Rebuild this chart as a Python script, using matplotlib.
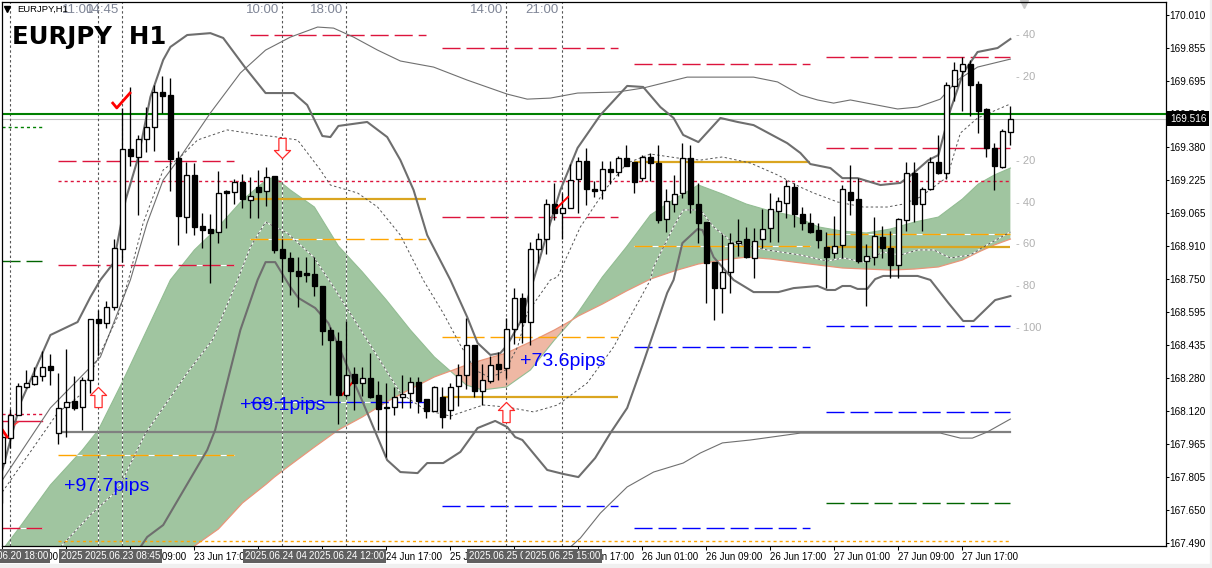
import matplotlib
matplotlib.use("Agg")
import matplotlib.pyplot as plt
from matplotlib.path import Path
from matplotlib.patches import Rectangle
from matplotlib.transforms import blended_transform_factory
import numpy as np

plt.rcParams['font.family'] = ['Liberation Sans', 'DejaVu Sans']

# ---- candles, EURJPY H1, one value per bar ----
opens = [167.873,167.992,168.102,168.236,168.250,168.288,168.336,168.016,168.140,168.169,
         168.140,168.269,168.560,168.541,168.618,168.895,169.372,169.334,169.420,169.477,
         169.644,169.630,169.329,169.047,169.248,169.004,168.990,168.976,169.171,169.167,
         169.214,169.128,169.190,169.171,169.243,168.895,168.852,168.790,168.780,168.775,
         168.718,168.508,168.455,168.198,168.298,168.255,168.279,168.198,168.140,168.140,
         168.188,168.207,168.260,168.179,168.121,168.188,168.126,168.241,168.293,168.436,
         168.217,168.264,168.346,168.327,168.513,168.661,168.546,168.895,168.942,169.109,
         169.066,169.090,169.229,169.315,169.181,169.176,169.276,169.262,169.329,169.310,
         169.233,169.334,169.305,169.038,169.109,169.162,169.329,169.109,169.023,168.832,
         168.708,168.785,168.923,168.942,168.852,168.942,168.995,169.076,169.114,169.190,
         169.062,169.019,168.985,168.904,168.875,168.914,169.167,169.133,168.837,168.856,
         168.952,168.899,168.818,169.033,169.257,169.109,169.181,169.310,169.257,169.673,
         169.744,169.778,169.682,169.563,169.377,169.286,169.453]
highs = [168.078,168.131,168.255,168.317,168.331,168.408,168.393,168.303,168.417,168.288,
         168.284,168.560,168.603,168.646,168.942,169.568,169.668,169.439,169.572,169.677,
         169.720,169.711,169.362,169.310,169.305,169.066,169.062,169.267,169.176,169.229,
         169.253,169.238,169.272,169.286,169.243,168.942,168.880,168.856,168.856,168.856,
         168.718,168.522,168.498,168.551,168.331,168.331,168.398,168.264,168.255,168.236,
         168.293,168.284,168.284,168.179,168.241,168.236,168.255,168.346,168.565,168.436,
         168.346,168.384,168.403,168.565,168.708,168.685,168.928,168.971,169.133,169.210,
         169.162,169.300,169.334,169.377,169.219,169.315,169.315,169.338,169.391,169.310,
         169.343,169.353,169.391,169.181,169.248,169.400,169.391,169.210,169.023,168.832,
         168.966,168.971,169.038,169.000,168.995,169.085,169.162,169.143,169.224,169.210,
         169.095,169.066,169.019,168.976,169.052,169.200,169.295,169.233,168.918,169.047,
         169.004,168.980,169.042,169.310,169.310,169.190,169.334,169.439,169.692,169.787,
         169.811,169.797,169.696,169.568,169.400,169.467,169.577]
lows = [167.682,167.945,168.102,168.231,168.245,168.264,168.245,167.964,167.997,168.126,
        168.031,168.207,168.389,168.517,168.603,168.832,169.291,169.057,169.358,169.362,
        169.544,169.171,168.914,168.971,168.961,168.899,168.732,168.923,168.995,169.109,
        169.090,169.042,169.042,169.100,168.875,168.737,168.675,168.618,168.737,168.670,
        168.436,168.198,168.059,168.188,168.126,168.193,168.183,168.031,167.902,168.102,
        168.136,168.136,168.112,168.088,168.121,168.040,168.083,168.145,168.226,168.188,
        168.150,168.255,168.269,168.279,168.441,168.446,168.436,168.828,168.871,169.033,
        168.942,169.090,169.066,169.105,169.143,169.133,169.205,169.243,169.291,169.162,
        169.219,169.219,169.019,168.976,169.071,169.138,169.066,168.923,168.637,168.556,
        168.589,168.685,168.861,168.852,168.756,168.899,168.928,168.928,169.042,169.000,
        168.985,168.971,168.899,168.708,168.852,168.852,169.057,168.828,168.622,168.818,
        168.852,168.756,168.756,168.980,169.023,168.980,169.176,169.253,169.229,169.601,
        169.553,169.529,169.448,169.334,169.176,169.281,169.391]
closes = [167.997,168.102,168.241,168.255,168.288,168.331,168.317,168.136,168.164,168.136,
          168.269,168.560,168.541,168.618,168.899,169.372,169.338,169.420,169.477,169.644,
          169.625,169.324,169.052,169.248,169.000,168.985,168.971,169.162,169.162,169.214,
          169.133,169.148,169.167,169.238,168.890,168.852,168.790,168.766,168.770,168.718,
          168.503,168.460,168.198,168.293,168.255,168.279,168.188,168.131,168.136,168.188,
          168.202,168.260,168.169,168.121,168.236,168.093,168.236,168.293,168.436,168.217,
          168.269,168.341,168.322,168.513,168.661,168.546,168.895,168.942,169.109,169.066,
          169.090,169.224,169.315,169.181,169.171,169.276,169.262,169.329,169.291,169.214,
          169.334,169.305,169.033,169.124,169.157,169.329,169.109,169.019,168.828,168.708,
          168.785,168.923,168.933,168.856,168.933,168.990,169.085,169.124,169.195,169.062,
          169.019,168.976,168.938,168.856,168.909,169.181,169.128,168.837,168.861,168.957,
          168.899,168.818,169.038,169.257,169.109,169.181,169.310,169.257,169.677,169.749,
          169.778,169.677,169.553,169.377,169.291,169.458,169.515]

# ---- inner bands (thick) ----
upper_bars = [0,2.25,6,9.4,11,12.25,13.9,15.4,17,18.5,20.1,21,23.1,26,27.6,30.4,32.9,36.4,38.1,40,41,42,
              45.6,48.1,49.75,51.4,53.1,56,58.1,59.4,61,62.25,63.1,64.75,66.4,68.1,69.75,71.9,74.75,78.1,
              80.1,82.25,83.9,85.1,87,89.75,91.9,93.9,98.1,99.75,101,103.5,105,106.9,109.75,112.25,113.9,
              115.75,117,118.5,120.1,121.9,124.4,126]
upper_vals = [167.840,168.159,168.484,168.546,168.665,168.747,168.828,169.128,169.334,169.620,169.797,
              169.859,169.916,169.925,169.902,169.758,169.639,169.639,169.582,169.434,169.429,169.482,
              169.501,169.429,169.319,169.176,168.961,168.747,168.570,168.446,168.389,168.398,168.436,
              168.546,168.747,168.971,169.176,169.377,169.534,169.673,169.668,169.572,169.520,169.439,
              169.405,169.520,169.501,169.486,169.400,169.353,169.300,169.281,169.233,169.233,169.200,
              169.210,169.257,169.319,169.343,169.558,169.735,169.835,169.854,169.897]
lower_bars = [17.25,18.1,20.1,25.6,26.6,29.75,31.9,32.9,34.1,36,37,39.1,40.75,42.6,45.1,48.1,49.75,51.9,
              53.1,55.1,57.25,59.4,61.6,63.1,64.1,65,68.1,70.1,72,74.1,76,78.1,80.1,83.1,83.9,85,86.9,
              87.5,88.9,91.4,93.9,97,98.9,101.9,103.1,104.1,105,106,106.9,108.1,109.1,110.1,114.4,116,
              118.25,120.1,121.4,124.1,126]
lower_vals = [167.472,167.520,167.577,167.935,168.031,168.508,168.747,168.832,168.832,168.713,168.661,
              168.613,168.541,168.379,168.159,167.887,167.830,167.825,167.873,167.873,167.926,168.040,
              168.074,168.045,167.997,167.983,167.840,167.821,167.806,167.897,168.016,168.136,168.350,
              168.685,168.747,168.923,168.990,168.985,168.856,168.747,168.689,168.689,168.708,168.718,
              168.699,168.699,168.718,168.718,168.704,168.704,168.751,168.766,168.766,168.747,168.637,
              168.551,168.551,168.651,168.670]

# ---- outer bands (thin solid) ----
outer_up_bars = [0,6,12.25,16,18.1,20.1,22.25,26,29.75,32.9,36,39.4,41.4,43.9,46.9,49.75,53.9,58.1,63.1,
                 65.6,68.5,71.9,76.9,80.1,85.6,93.9,96.9,99.75,101.9,103.9,106,111.9,114.4,117.25,119.4,
                 121.9,126]
outer_up_vals = [167.792,168.136,168.379,168.747,169.019,169.224,169.334,169.544,169.735,169.844,169.906,
                 169.954,169.949,169.906,169.844,169.792,169.763,169.701,169.634,169.610,169.615,169.639,
                 169.644,169.663,169.715,169.715,169.692,169.630,169.606,169.591,169.606,169.563,169.572,
                 169.610,169.701,169.763,169.801]
outer_lo_bars = [71,72.25,74.75,78.1,81.4,85.1,87.25,90,93.5,99.75,117.25,119.75,121.25,123.1,126]
outer_lo_vals = [167.472,167.515,167.634,167.759,167.830,167.873,167.921,167.969,167.983,168.016,168.016,
                 167.992,167.992,168.021,168.083]

# ---- dotted bands ----
dot_up_bars = [0,6.9,9.75,12.25,14.4,15.75,17.6,20.1,22.25,24.4,28.1,32.25,34.4,36.9,39.75,41,44.4,46.9,
               49.75,52.6,55.1,57.25,59.1,61,62.9,64.4,65.6,68.5,69.4,72.25,75.6,78.1,81,84.4,87.25,90,
               93.5,96.9,99.75,101.4,104.4,107.6,110.6,112.6,114.75,118.1,119.75,121.9,126]
dot_up_vals = [167.735,168.112,168.198,168.398,168.570,168.747,169.019,169.272,169.334,169.415,169.463,
               169.439,169.429,169.415,169.272,169.200,169.162,169.095,168.961,168.747,168.589,168.436,
               168.317,168.279,168.317,168.427,168.589,168.747,168.761,169.000,169.190,169.305,169.348,
               169.329,169.319,169.334,169.305,169.248,169.190,169.162,169.119,169.095,169.095,169.109,
               169.143,169.238,169.448,169.520,169.587]
dot_lo_bars = [7.25,11,14.4,17.9,23.1,26.25,29.4,31,32.9,35.6,38.9,41.4,45.6,49.75,52.9,56,60.1,63.1,66.4,
               69.4,73.1,76.4,81,81.4,83.9,85.1,87.25,88.9,91.4,95.6,99.75,103.1,105.1,107.6,110.1,112.25,
               114.4,116.4,118.5,121,122.6,126]
dot_lo_vals = [167.472,167.625,167.744,168.016,168.303,168.460,168.747,168.904,169.023,168.971,168.856,
               168.713,168.460,168.207,168.126,168.097,168.150,168.140,168.117,168.150,168.255,168.427,
               168.747,168.809,169.000,169.081,169.081,169.000,168.923,168.890,168.866,168.837,168.852,
               168.832,168.880,168.866,168.890,168.890,168.852,168.866,168.904,168.976]

# ---- cloud ----
cloud_bars = [0,2,6,10,12,15,18,21,24,27,30,33,34,36,39,42,45,48,51,54,56,58,60,63,66,69,71,72,75,78,81,84,
              87,90,93,96,99,102,105,108,111,114,117,120,122,124,126]
cloud_a = [167.458,167.558,167.768,167.935,168.031,168.260,168.503,168.747,168.890,169.000,169.128,169.224,
           169.238,169.176,169.095,168.909,168.785,168.651,168.508,168.379,168.312,168.245,168.222,168.236,
           168.317,168.460,168.546,168.594,168.761,168.904,169.057,169.133,169.200,169.157,169.109,169.076,
           169.052,169.000,168.980,168.971,168.990,169.023,169.047,169.133,169.205,169.248,169.281]
cloud_b = [167.458,167.458,167.458,167.458,167.458,167.458,167.458,167.458,167.477,167.558,167.682,167.773,
           167.806,167.864,167.949,168.031,168.093,168.164,168.226,168.284,168.312,168.341,168.365,168.398,
           168.451,168.508,168.551,168.575,168.632,168.694,168.751,168.790,168.823,168.842,168.856,168.847,
           168.832,168.818,168.804,168.799,168.794,168.799,168.809,168.842,168.880,168.914,168.942]

# ---- levels: start bar, end bar, price ----
red_long = [(7,29,169.315),(7,29,168.816),(31,53,169.916),(55,77,169.854),(55,77,169.047),
            (79,101,169.778),(103,126,169.809),(103,126,169.377),(0,5,167.563)]
orange_long = [(7,29,167.911),(31,53,168.942),(55,77,168.475),(79,101,168.909),(103,126,168.964)]
gold_solid = [(31,53,169.133),(55,77,168.188),(79,101,169.310),(103,126,168.906)]
blue_long = [(31,53,168.164),(55,77,167.668),(79,101,168.427),(79,101,167.563),(103,126,168.527),
             (103,126,168.117)]
green_long = [(103,126,167.682),(0,5,168.837)]
green_price = 169.539
last_price = 169.516
grey_price = 168.021
red_dot_price = 169.221
orange_dot_price = 167.501
green_dot_price = 169.477
red_stub_prices = [168.105, 168.076]

# ---- marks and text ----
vline_bars = [1, 12, 15, 35, 43, 63, 70]
vline_tops = ['', '11:00', '14:45', '10:00', '18:00', '14:00', '21:00']
vline_dates = ['2025.06.20 18:00', '2025.06.23 05:45', '2025.06.23 08:45', '2025.06.24 04:00',
               '2025.06.24 12:00', '2025.06.25 08:00', '2025.06.25 15:00']
arrow_up_bars = [12, 63]
arrow_up_prices = [168.188, 168.116]
arrow_down_bars = [35]
arrow_down_prices = [169.377]
pips_bars = [7.7, 29.7, 64.7]
pips_prices = [167.763, 168.150, 168.360]
pips_labels = ['+97.7pips', '+69.1pips', '+73.6pips']
scale_prices = [169.916, 169.715, 169.317, 169.116, 168.918, 168.720, 168.517]
scale_labels = ['- 40', '- 20', '- 20', '- 40', '- 60', '- 80', '- 100']
price_ticks = [170.010,169.855,169.695,169.540,169.380,169.225,169.065,168.910,168.750,168.595,168.435,
               168.280,168.120,167.965,167.805,167.650,167.490]
time_ticks = [0,8,16,24,32,40,48,56,64,72,80,88,96,104,112,120]
time_labels = ['20 Jun 17:00','23 Jun 01:00','23 Jun 09:00','23 Jun 17:00','24 Jun 01:00','24 Jun 09:00',
               '24 Jun 17:00','25 Jun 01:00','25 Jun 09:00','25 Jun 17:00','26 Jun 01:00','26 Jun 09:00',
               '26 Jun 17:00','27 Jun 01:00','27 Jun 09:00','27 Jun 17:00']

W, H = 1212, 568
fig = plt.figure(figsize=(W / 100, H / 100), dpi=100)
ax = fig.add_axes([1.5 / W, 1 - 546 / H, 1164 / W, 544.5 / H])
ax.set_xlim(-0.11, 145.39)
ax.set_ylim(167.477, 170.076)

# strips at the window edge
fig.add_artist(Rectangle((0, 0), 1, 4 / H, transform=fig.transFigure, color='#f0f0f0', zorder=-5))
fig.add_artist(Rectangle((1 - 2 / W, 0), 2 / W, 1, transform=fig.transFigure, color='#f0f0f0', zorder=-5))

# cloud
cloud_x = np.array(cloud_bars)
a = np.array(cloud_a)
b = np.array(cloud_b)
green = ax.fill_between(cloud_x, a, b, where=a >= b, interpolate=True, color='#a0c5a0', lw=0, zorder=1)
ax.fill_between(cloud_x, a, b, where=a <= b, interpolate=True, color='#efb8a4', lw=0, zorder=1)
ax.plot(cloud_x, a, color='#93bd93', lw=0.8, zorder=1.1)
ax.plot(cloud_x[8:], b[8:], color='#e9967a', lw=0.9, zorder=1.1)
green_path = Path.make_compound_path(*green.get_paths())


def white_gaps(xs, ys):
    # dash gaps over the cloud come out white
    line, = ax.plot(xs, ys, color='white', lw=0.8, zorder=1.3)
    line.set_clip_path(green_path, ax.transData)


LONG = (0, (13, 4.3))
SHORT = (0, (2.2, 2.2))
LEVEL_LW = 1.0

for start, end, price in red_long + orange_long + blue_long + green_long:
    white_gaps([start - 0.05, end - 0.05], [price, price])
for start, end, price in red_long:
    ax.plot([start - 0.05, end - 0.05], [price, price], color='#dc143c', lw=LEVEL_LW, ls=LONG, zorder=1.5)
for start, end, price in orange_long:
    ax.plot([start - 0.05, end - 0.05], [price, price], color='#ffa500', lw=LEVEL_LW, ls=LONG, zorder=1.5)
for start, end, price in blue_long:
    ax.plot([start - 0.05, end - 0.05], [price, price], color='#0000ff', lw=LEVEL_LW, ls=LONG, zorder=1.5)
for start, end, price in green_long:
    ax.plot([start - 0.05, end - 0.05], [price, price], color='#006400', lw=LEVEL_LW, ls=LONG, zorder=1.5)
for start, end, price in gold_solid:
    ax.plot([start - 0.05, end], [price, price], color='#daa520', lw=1.6, zorder=1.6, solid_capstyle='butt')

ax.axhline(green_price, color='#008000', lw=1.5, zorder=1.7)
ax.axhline(last_price, color='#c0c0c0', lw=0.8, zorder=1.4)
ax.plot([7, 126], [grey_price, grey_price], color='#808080', lw=1.6, zorder=1.7)
ax.plot([7, 126], [red_dot_price, red_dot_price], color='#dc143c', lw=LEVEL_LW, ls=SHORT, zorder=1.5)
ax.plot([7, 126], [orange_dot_price, orange_dot_price], color='#ffa500', lw=LEVEL_LW, ls=SHORT, zorder=1.5)
ax.plot([0, 5], [green_dot_price, green_dot_price], color='#008000', lw=LEVEL_LW, ls=SHORT, zorder=1.5)
ax.plot([0, 5], [red_stub_prices[0], red_stub_prices[0]], color='#dc143c', lw=LEVEL_LW, ls=SHORT, zorder=1.5)
ax.plot([0, 5], [red_stub_prices[1], red_stub_prices[1]], color='#dc143c', lw=LEVEL_LW, zorder=1.5)

# time lines
for bar in vline_bars:
    white_gaps([bar, bar], [167.477, 170.076])
    ax.plot([bar, bar], [167.477, 170.076], color='#555555', lw=0.8, ls=SHORT, zorder=1.5)
for bar, label in zip(vline_bars, vline_tops):
    ax.text(bar - 0.45, 170.035, label, ha='right', va='center', fontsize=9.5, color='#7f8596', zorder=4)

# bands
ax.plot(upper_bars, upper_vals, color='#6e6e6e', lw=1.5, zorder=2)
ax.plot(lower_bars, lower_vals, color='#6e6e6e', lw=1.5, zorder=2)
ax.plot(outer_up_bars, outer_up_vals, color='#707070', lw=0.8, zorder=2)
ax.plot(outer_lo_bars, outer_lo_vals, color='#707070', lw=0.8, zorder=2)
for xs, ys in [(dot_up_bars, dot_up_vals), (dot_lo_bars, dot_lo_vals)]:
    white_gaps(xs, ys)
    ax.plot(xs, ys, color='#555555', lw=0.7, ls=(0, (2.5, 2.5)), zorder=2)

# candles
bars = np.arange(len(opens))
o = np.array(opens)
c = np.array(closes)
ax.vlines(bars, lows, highs, color='black', lw=0.95, zorder=3)
up = c >= o
ax.bar(bars[up], (c - o)[up], bottom=o[up], width=0.56, color='white', edgecolor='black', lw=0.95, zorder=3.2)
ax.bar(bars[~up], (o - c)[~up], bottom=c[~up], width=0.56, color='black', edgecolor='black', lw=0.95, zorder=3.2)

# arrows and ticks
up_arrow = Path([(0, 1), (0.8, 0.2), (0.36, 0.2), (0.36, -1), (-0.36, -1), (-0.36, 0.2), (-0.8, 0.2), (0, 1)],
                closed=True)
down_arrow = Path([(0, -1), (0.8, -0.2), (0.36, -0.2), (0.36, 1), (-0.36, 1), (-0.36, -0.2), (-0.8, -0.2), (0, -1)],
                  closed=True)
ax.plot(arrow_up_bars, arrow_up_prices, ls='none', marker=up_arrow, ms=14.5, mfc='white', mec='#ff2a2a', mew=0.9,
        zorder=3.5)
ax.plot(arrow_down_bars, arrow_down_prices, ls='none', marker=down_arrow, ms=14.5, mfc='white', mec='#ff2a2a',
        mew=0.9, zorder=3.5)
ax.plot([13.8, 14.3, 15.95], [169.591, 169.568, 169.639], color='#ff0000', lw=2, zorder=3.6)
ax.plot([69.3, 70.7], [169.090, 169.143], color='#ff0000', lw=1.4, zorder=3.6)
ax.plot([42.45, 43.7], [168.198, 168.255], color='#ff0000', lw=1.4, zorder=3.1)
ax.plot([0, 0.6], [168.031, 167.997], color='#ff0000', lw=2, zorder=3.6)
ax.plot([1.3, 1.95], [168.050, 168.069], color='#ff4040', lw=1.2, zorder=3.1)

# text
for bar, price, label in zip(pips_bars, pips_prices, pips_labels):
    ax.text(bar, price, label, color='#0000ff', fontsize=14, ha='left', va='center', zorder=4)
for price, label in zip(scale_prices, scale_labels):
    ax.text(126.7, price, label, color='#b0b0b0', fontsize=8, ha='left', va='center', zorder=4)
ax.text(1.2, 169.905, 'EURJPY  H1', family='DejaVu Sans', fontweight='bold', fontsize=17.6, color='black',
        ha='left', va='center', zorder=5)
ax.text(1.9, 170.04, 'EURJPY,H1', fontsize=6.8, color='black', ha='left', va='center', zorder=5)
ax.plot([0.6], [170.04], ls='none', marker='v', ms=4, color='black', zorder=5)
ax.plot([127.7], [170.064], ls='none', marker='v', ms=6, color='#c8c8c8', clip_on=False, zorder=5)

# axes
ax.yaxis.tick_right()
ax.set_yticks(price_ticks)
ax.set_yticklabels([f'{p:.3f}' for p in price_ticks], fontsize=7.2)
ax.set_xticks(time_ticks)
ax.set_xticklabels(time_labels, fontsize=7, ha='left')
ax.tick_params(axis='y', length=2.2, width=0.75, pad=0.6)
ax.tick_params(axis='x', length=2.8, width=0.75, pad=1.6)
for spine in ax.spines.values():
    spine.set_linewidth(0.9)
    spine.set_zorder(6)

# time boxes over the axis
box_tr = blended_transform_factory(ax.transData, ax.transAxes)
for bar, label in zip(vline_bars, vline_dates):
    ax.text(bar, -0.0185, label, transform=box_tr, fontsize=7, color='white', ha='center', va='center',
            clip_on=False, zorder=8,
            bbox=dict(facecolor='#606060', edgecolor='none', pad=1.6))

price_tr = blended_transform_factory(ax.transAxes, ax.transData)
ax.text(1.0038, last_price, f'{last_price:.3f}', transform=price_tr, fontsize=7.2, color='white', ha='left',
        va='center', clip_on=False, zorder=8, bbox=dict(facecolor='black', edgecolor='none', pad=1.8))

fig.savefig('out.png', dpi=100)
